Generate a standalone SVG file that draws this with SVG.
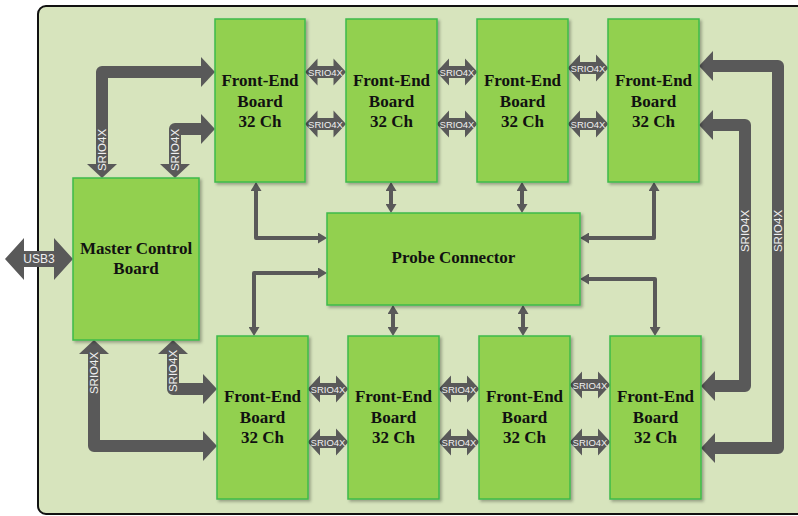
<svg xmlns="http://www.w3.org/2000/svg" width="798" height="516" viewBox="0 0 798 516">
<defs>
<style>
.bg{fill:#d7e4bd;stroke:#111;stroke-width:2}
.box{fill:#92d050;stroke:#3dbb4a;stroke-width:1.5;filter:url(#sh)}
.lbl{font-family:"Liberation Serif","Times New Roman",serif;font-weight:bold;font-size:17px;fill:#111;text-anchor:middle}
.thin{fill:none;stroke:#595959;stroke-width:4;stroke-linejoin:round;marker-start:url(#ah);marker-end:url(#ah)}
.thick{fill:none;stroke:#595959;stroke-width:12;stroke-linejoin:round}
.head{fill:#595959}
.bus{font-family:"Liberation Sans",Arial,sans-serif;fill:#f0f0f0;text-anchor:middle;dominant-baseline:central}
.s9{font-size:9.5px}
.s11{font-size:11.5px}
.s12{font-size:12px}
</style>
<filter id="sh" x="-10%" y="-10%" width="130%" height="130%"><feDropShadow dx="2" dy="2" stdDeviation="1.5" flood-color="#000" flood-opacity="0.3"/></filter>
<marker id="ah" viewBox="0 0 9 11" refX="2" refY="5.5" markerWidth="9" markerHeight="11" markerUnits="userSpaceOnUse" orient="auto-start-reverse"><path d="M0,0 L9,5.5 L0,11 Z" fill="#595959"/></marker>
<path id="dbl" d="M-20.5,0 L-8,-13.5 L-8,-6 L8,-6 L8,-13.5 L20.5,0 L8,13.5 L8,6 L-8,6 L-8,13.5 Z"/>
</defs>

<rect class="bg" x="38" y="6" width="800" height="508" rx="8"/>

<g id="connectors">
  <!-- thin probe connectors -->
  <path class="thin" d="M256,189 L256,238 L320,238"/>
  <path class="thin" d="M391,189 L391,206"/>
  <path class="thin" d="M522,189 L522,206"/>
  <path class="thin" d="M654,189 L654,238 L587,238"/>
  <path class="thin" d="M320,273 L254,273 L254,329"/>
  <path class="thin" d="M393,312 L393,329"/>
  <path class="thin" d="M523,312 L523,329"/>
  <path class="thin" d="M587,279 L655,279 L655,329"/>

  <!-- thick SRIO4X buses from master (top) -->
  <path class="thick" d="M102,164 L102,72 L202,72"/>
  <polygon class="head" points="87,164 117,164 102,178"/>
  <polygon class="head" points="201,57 201,87 215,72"/>
  <path class="thick" d="M175,164 L175,129 L202,129"/>
  <polygon class="head" points="160,164 190,164 175,178"/>
  <polygon class="head" points="201,114 201,144 215,129"/>
  <text class="bus s11" transform="translate(102,150) rotate(-90)">SRIO4X</text>
  <text class="bus s11" transform="translate(175,150) rotate(-90)">SRIO4X</text>

  <!-- thick SRIO4X buses from master (bottom) -->
  <path class="thick" d="M94,354 L94,446 L204,446"/>
  <polygon class="head" points="79,354 109,354 94,340"/>
  <polygon class="head" points="203,431 203,461 217,446"/>
  <path class="thick" d="M173,354 L173,389 L204,389"/>
  <polygon class="head" points="158,354 188,354 173,340"/>
  <polygon class="head" points="203,374 203,404 217,389"/>
  <text class="bus s11" transform="translate(94,373) rotate(-90)">SRIO4X</text>
  <text class="bus s11" transform="translate(173,371) rotate(-90)">SRIO4X</text>

  <!-- right side ring buses -->
  <path class="thick" d="M712,66 L778,66 L778,448 L714,448"/>
  <polygon class="head" points="713,51 713,81 699,66"/>
  <polygon class="head" points="715,433 715,463 701,448"/>
  <path class="thick" d="M712,125 L745,125 L745,386 L714,386"/>
  <polygon class="head" points="713,110 713,140 699,125"/>
  <polygon class="head" points="715,371 715,401 701,386"/>
  <text class="bus s11" transform="translate(778,231) rotate(-90)">SRIO4X</text>
  <text class="bus s11" transform="translate(745,231) rotate(-90)">SRIO4X</text>

  <!-- SRIO4X between front-end boards, top row -->
  <use href="#dbl" class="head" x="325.5" y="72"/>
  <use href="#dbl" class="head" x="325.5" y="124"/>
  <use href="#dbl" class="head" x="457" y="72"/>
  <use href="#dbl" class="head" x="457" y="124"/>
  <use href="#dbl" class="head" x="588" y="68"/>
  <use href="#dbl" class="head" x="588" y="124"/>
  <text class="bus s9" x="325.5" y="72">SRIO4X</text>
  <text class="bus s9" x="325.5" y="124">SRIO4X</text>
  <text class="bus s9" x="457" y="72">SRIO4X</text>
  <text class="bus s9" x="457" y="124">SRIO4X</text>
  <text class="bus s9" x="588" y="68">SRIO4X</text>
  <text class="bus s9" x="588" y="124">SRIO4X</text>

  <!-- SRIO4X between front-end boards, bottom row -->
  <use href="#dbl" class="head" x="328" y="389"/>
  <use href="#dbl" class="head" x="328" y="442"/>
  <use href="#dbl" class="head" x="459" y="389"/>
  <use href="#dbl" class="head" x="459" y="442"/>
  <use href="#dbl" class="head" x="590" y="385"/>
  <use href="#dbl" class="head" x="590" y="442"/>
  <text class="bus s9" x="328" y="389">SRIO4X</text>
  <text class="bus s9" x="328" y="442">SRIO4X</text>
  <text class="bus s9" x="459" y="389">SRIO4X</text>
  <text class="bus s9" x="459" y="442">SRIO4X</text>
  <text class="bus s9" x="590" y="385">SRIO4X</text>
  <text class="bus s9" x="590" y="442">SRIO4X</text>

  <!-- USB3 -->
  <path class="head" d="M5,259 L24,238 L24,251 L54,251 L54,238 L73,259 L54,280 L54,267 L24,267 L24,280 Z"/>
  <text class="bus s12" x="39" y="259">USB3</text>
</g>

<g id="master">
  <rect class="box" x="73" y="178" width="126" height="162"/>
  <text class="lbl" x="136" y="254">Master Control</text>
  <text class="lbl" x="136" y="274">Board</text>
</g>

<g id="probe">
  <rect class="box" x="327" y="213" width="253" height="92"/>
  <text class="lbl" x="453.5" y="263">Probe Connector</text>
</g>

<g id="fe-top-1">
  <rect class="box" x="215" y="19" width="90" height="163"/>
  <text class="lbl" x="260" y="86">Front-End</text>
  <text class="lbl" x="260" y="106.5">Board</text>
  <text class="lbl" x="260" y="127">32 Ch</text>
</g>
<g id="fe-top-2">
  <rect class="box" x="346" y="19" width="91" height="163"/>
  <text class="lbl" x="391.5" y="86">Front-End</text>
  <text class="lbl" x="391.5" y="106.5">Board</text>
  <text class="lbl" x="391.5" y="127">32 Ch</text>
</g>
<g id="fe-top-3">
  <rect class="box" x="477" y="19" width="91" height="163"/>
  <text class="lbl" x="522.5" y="86">Front-End</text>
  <text class="lbl" x="522.5" y="106.5">Board</text>
  <text class="lbl" x="522.5" y="127">32 Ch</text>
</g>
<g id="fe-top-4">
  <rect class="box" x="608" y="19" width="91" height="163"/>
  <text class="lbl" x="653.5" y="86">Front-End</text>
  <text class="lbl" x="653.5" y="106.5">Board</text>
  <text class="lbl" x="653.5" y="127">32 Ch</text>
</g>

<g id="fe-bot-1">
  <rect class="box" x="217" y="336" width="91" height="163"/>
  <text class="lbl" x="262.5" y="402">Front-End</text>
  <text class="lbl" x="262.5" y="422.5">Board</text>
  <text class="lbl" x="262.5" y="443">32 Ch</text>
</g>
<g id="fe-bot-2">
  <rect class="box" x="348" y="336" width="91" height="163"/>
  <text class="lbl" x="393.5" y="402">Front-End</text>
  <text class="lbl" x="393.5" y="422.5">Board</text>
  <text class="lbl" x="393.5" y="443">32 Ch</text>
</g>
<g id="fe-bot-3">
  <rect class="box" x="479" y="336" width="91" height="163"/>
  <text class="lbl" x="524.5" y="402">Front-End</text>
  <text class="lbl" x="524.5" y="422.5">Board</text>
  <text class="lbl" x="524.5" y="443">32 Ch</text>
</g>
<g id="fe-bot-4">
  <rect class="box" x="610" y="336" width="91" height="163"/>
  <text class="lbl" x="655.5" y="402">Front-End</text>
  <text class="lbl" x="655.5" y="422.5">Board</text>
  <text class="lbl" x="655.5" y="443">32 Ch</text>
</g>
</svg>
